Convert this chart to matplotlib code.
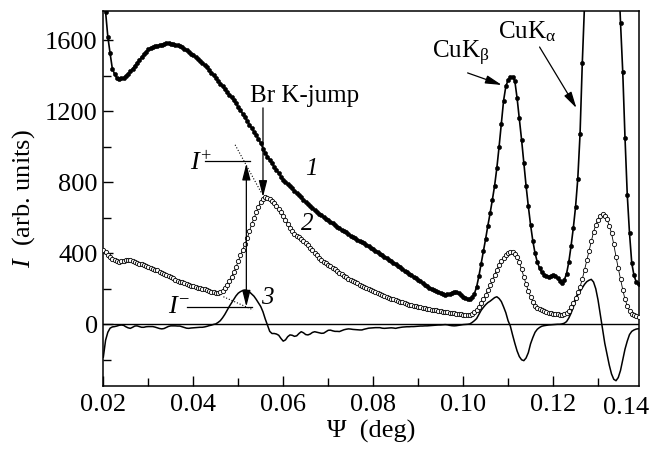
import numpy as np
import matplotlib
matplotlib.use("Agg")
import matplotlib.pyplot as plt
from matplotlib.ticker import MultipleLocator, FixedLocator, FormatStrFormatter
from matplotlib.transforms import ScaledTranslation

plt.rcParams['font.family'] = ['Liberation Serif', 'DejaVu Serif']
plt.rcParams['mathtext.fontset'] = 'custom'
plt.rcParams['mathtext.rm'] = 'Liberation Serif'
plt.rcParams['mathtext.it'] = 'Liberation Serif:italic'

# sampling grid of the scans (deg), step 0.0005
psi = np.round(np.arange(0.0200, 0.13925, 0.0005), 4)

# curve 1: total reflected intensity
curve1 = [1900, 1760, 1620, 1527, 1440, 1410, 1388, 1383, 1385, 1390,
          1400, 1412, 1425, 1440, 1455, 1472, 1490, 1505, 1520, 1535,
          1548, 1556, 1562, 1566, 1570, 1572, 1575, 1579, 1582, 1582,
          1580, 1579, 1576, 1572, 1568, 1561, 1553, 1544, 1535, 1525,
          1515, 1504, 1493, 1482, 1471, 1460, 1448, 1433, 1418, 1402,
          1387, 1372, 1356, 1340, 1325, 1310, 1294, 1278, 1262, 1244,
          1225, 1205, 1185, 1165, 1145, 1125, 1105, 1085, 1065, 1043,
          1020, 990, 965, 945, 925, 906, 888, 869, 850, 832,
          815, 802, 790, 777, 765, 752, 740, 727, 715, 702,
          690, 677, 665, 654, 643, 632, 622, 613, 604, 594,
          585, 576, 568, 559, 550, 541, 533, 525, 517, 508,
          500, 492, 485, 477, 470, 462, 455, 447, 440, 431,
          423, 414, 406, 397, 389, 380, 372, 363, 355, 346,
          338, 329, 320, 311, 302, 293, 285, 276, 267, 258,
          250, 241, 233, 224, 215, 207, 200, 193, 186, 180,
          175, 170, 167, 168, 172, 178, 183, 181, 175, 165,
          155, 148, 143, 142, 152, 172, 210, 270, 340, 410,
          480, 555, 625, 700, 780, 880, 1000, 1130, 1260, 1340,
          1376, 1392, 1395, 1370, 1275, 1160, 1040, 910, 780, 665,
          560, 470, 400, 350, 315, 292, 280, 270, 268, 272,
          277, 270, 258, 245, 235, 250, 285, 350, 440, 541,
          660, 820, 1070, 1470, 1800, 2150, 2450, 2700, 2950, 3150,
          3300, 3400, 3450, 3400, 3300, 3100, 2900, 2600, 2300, 2000,
          1700, 1420, 1050, 730, 513, 345, 275, 238, 225]

# curve 2: Br fluorescence
curve2 = [417, 405, 390, 381, 370, 362, 356, 353, 354, 358,
          362, 363, 360, 355, 350, 346, 342, 337, 333, 328,
          324, 319, 314, 308, 303, 297, 290, 284, 278, 271,
          265, 258, 252, 246, 240, 236, 232, 227, 222, 218,
          214, 210, 207, 203, 200, 196, 192, 188, 184, 180,
          178, 177, 182, 190, 205, 222, 245, 268, 292, 322,
          355, 388, 420, 452, 485, 525, 565, 598, 630, 662,
          690, 706, 715, 713, 705, 694, 682, 667, 650, 630,
          608, 585, 565, 545, 525, 510, 498, 489, 480, 470,
          460, 447, 432, 417, 402, 388, 375, 363, 352, 343,
          335, 326, 318, 309, 300, 291, 282, 273, 265, 257,
          250, 243, 237, 230, 224, 218, 212, 206, 200, 194,
          188, 182, 177, 171, 166, 160, 155, 150, 145, 140,
          136, 131, 127, 123, 119, 115, 111, 107, 104, 101,
          98, 95, 93, 90, 88, 85, 83, 80, 78, 75,
          73, 71, 70, 68, 66, 64, 62, 60, 58, 56,
          55, 54, 53, 53, 58, 67, 80, 98, 118, 140,
          165, 192, 220, 250, 280, 308, 335, 357, 375, 392,
          402, 408, 405, 395, 378, 348, 310, 268, 225, 188,
          155, 128, 105, 93, 85, 78, 73, 70, 66, 63,
          60, 58, 56, 54, 52, 56, 65, 76, 95, 120,
          150, 180, 210, 255, 306, 360, 415, 470, 520, 560,
          590, 608, 620, 612, 592, 555, 513, 450, 380, 315,
          255, 195, 140, 105, 75, 60, 50, 44, 42]

# curve 3: difference signal
curve3 = [-185, -90, -45, -22, -15, -13, -10, -6, -4, -6,
          -14, -20, -23, -17, -10, -9, -13, -17, -17, -14,
          -13, -13, -13, -16, -20, -24, -26, -24, -18, -12,
          -9, -9, -9, -10, -10, -14, -18, -22, -23, -21,
          -20, -19, -18, -17, -17, -15, -12, -8, -5, -1,
          2, 10, 20, 36, 55, 78, 100, 120, 140, 160,
          175, 184, 190, 193, 190, 182, 170, 158, 140, 120,
          100, 70, 30, -5, -40, -52, -52, -55, -62, -80,
          -95, -88, -70, -60, -62, -68, -65, -52, -42, -48,
          -58, -60, -55, -46, -42, -45, -48, -51, -50, -42,
          -34, -33, -37, -40, -40, -41, -36, -31, -28, -26,
          -27, -29, -30, -31, -32, -32, -28, -25, -22, -21,
          -20, -19, -19, -19, -22, -23, -22, -21, -20, -21,
          -23, -20, -18, -16, -15, -14, -14, -13, -13, -12,
          -11, -10, -10, -9, -9, -8, -7, -6, -5, -4,
          -4, -3, -2, -3, -6, -8, -9, -8, -6, -4,
          -2, -1, 0, 2, 10, 20, 32, 55, 78, 95,
          110, 122, 130, 140, 150, 155, 145, 128, 98, 65,
          20, -10, -60, -107, -150, -182, -200, -205, -190, -160,
          -110, -75, -45, -28, -18, -11, -8, -6, -4, -3,
          -2, -1, 0, 0, 2, 6, 15, 35, 62, 95,
          140, 165, 185, 205, 225, 240, 248, 253, 238, 200,
          137, 55, -30, -107, -170, -230, -280, -310, -318, -300,
          -260, -200, -140, -95, -58, -40, -32, -27, -25]

fig = plt.figure(figsize=(6.54, 4.53), dpi=100)
ax = fig.add_axes([0.158, 0.1486, 0.8183, 0.8272])

ax.axhline(0, color='black', lw=1.0, zorder=1)
ax.plot(psi, curve3, color='black', lw=1.1, zorder=2)
ax.plot(psi, curve2, color='black', lw=0.6, marker='o', ms=3.1,
        mfc='white', mec='black', mew=0.6, zorder=3)
ax.plot(psi, curve1, color='black', lw=1.2, marker='o', ms=3.0,
        mfc='black', mec='black', mew=0.4, zorder=4)

ax.set_xlim(0.02, 0.139)
ax.set_ylim(-346, 1765)

ax.xaxis.set_major_locator(FixedLocator([0.02, 0.04, 0.06, 0.08, 0.10, 0.12]))
ax.xaxis.set_major_formatter(FormatStrFormatter('%.2f'))
ax.xaxis.set_minor_locator(MultipleLocator(0.01))
ax.yaxis.set_major_locator(FixedLocator([0, 400, 800, 1200, 1600]))
ax.yaxis.set_minor_locator(MultipleLocator(200))
ax.tick_params(which='both', direction='in', top=False, right=False,
               width=1.0, labelsize=19)
ax.tick_params(axis='x', which='both', pad=6)
ax.tick_params(axis='y', which='both', pad=4)
ax.tick_params(which='major', length=7.5)
ax.tick_params(which='minor', length=5.5)
for sp in ax.spines.values():
    sp.set_linewidth(1.1)

# last x label sits at the end of the axis
off = ScaledTranslation(0, -8.5 / 72, fig.dpi_scale_trans)
ax.text(0.1362, 0, '0.14', transform=ax.get_xaxis_transform() + off,
        ha='center', va='top', fontsize=19)

ax.set_xlabel('\u03a8  (deg)', fontsize=19, labelpad=3)
ax.set_ylabel('$I$  (arb. units)', fontsize=19, labelpad=6)

# curve numbers
ax.text(0.0662, 875, '1', fontsize=18, style='italic', ha='center', va='center')
ax.text(0.0654, 564, '2', fontsize=18, style='italic', ha='center', va='center')
ax.text(0.0565, 148, '3', fontsize=18, style='italic', ha='center', va='center')

arrow = dict(arrowstyle='-|>,head_length=0.55,head_width=0.14', color='black',
             lw=0.9, shrinkA=0, shrinkB=0, mutation_scale=18)

# Br K-jump
ax.text(0.0648, 1254, 'Br K-jump', fontsize=18, ha='center', va='baseline')
ax.annotate('', xy=(0.0555, 717), xytext=(0.0555, 1219), arrowprops=arrow)

# CuK lines
ax.text(0.0931, 1500, 'CuK$_{\\mathregular{\u03b2}}$', fontsize=18, ha='left', va='baseline')
ax.annotate('', xy=(0.1086, 1348), xytext=(0.1010, 1416), arrowprops=arrow)
ax.text(0.1078, 1611, 'CuK$_{\\mathregular{\u03b1}}$', fontsize=18, ha='left', va='baseline')
ax.annotate('', xy=(0.1252, 1218), xytext=(0.1170, 1562), arrowprops=arrow)

# jump size I+ / I-
ax.plot([0.0426, 0.0526], [920, 920], color='black', lw=0.9)
ax.plot([0.0385, 0.0530], [99, 99], color='black', lw=0.9)
ax.plot([0.0493, 0.0552], [1011, 738], color='black', lw=0.8, ls=':')
ax.plot([0.0467, 0.0533], [155, 81], color='black', lw=0.8, ls=':')
ax.annotate('', xy=(0.0518, 905), xytext=(0.0518, 99),
            arrowprops=dict(arrow, arrowstyle='<|-|>,head_length=0.55,head_width=0.14'))
ax.text(0.0441, 869, '$I^{+}$', fontsize=19, ha='right', va='baseline')
ax.text(0.0393, 62, '$I^{-}$', fontsize=19, ha='right', va='baseline')

fig.savefig('out.png', dpi=100)
